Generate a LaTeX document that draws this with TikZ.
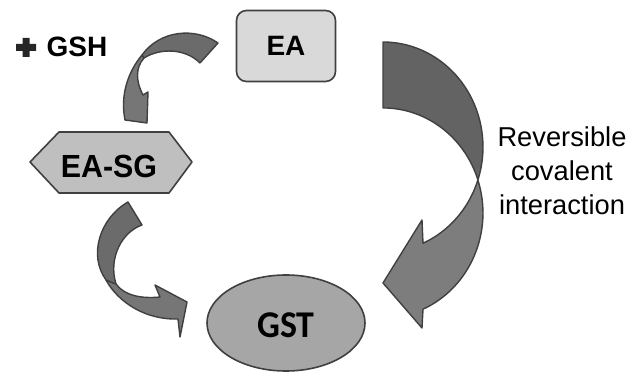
\documentclass[tikz,border=0pt]{standalone}
\usepackage{fontspec}
\setmainfont{Liberation Sans}
\newfontfamily\carl{Carlito}
\usetikzlibrary{shapes.geometric}
\definecolor{edgec}{HTML}{404040}
\definecolor{boxfill}{HTML}{D9D9D9}
\definecolor{hexfill}{HTML}{BFBFBF}
\definecolor{ellfill}{HTML}{A6A6A6}
\definecolor{arrdark}{HTML}{636363}
\definecolor{arrlight}{HTML}{7D7D7D}
\definecolor{arrmid}{HTML}{6B6B6B}
\definecolor{arrmid2}{HTML}{767676}
\definecolor{crossc}{HTML}{262626}
\tikzset{
  outl/.style={draw=edgec, line width=1.6pt, line join=round},
  band/.style={outl, line width=1.4pt},
  boldlbl/.style={font=\fontsize{28}{28}\selectfont\bfseries, inner sep=0pt},
}
\begin{document}
\begin{tikzpicture}[x=1pt,y=-1pt]
\useasboundingbox (0,0) rectangle (630,374);

% EA box
\node[outl, fill=boxfill, rounded corners=10pt, minimum width=99pt, minimum height=71pt, inner sep=0pt,
      font=\fontsize{28}{28}\selectfont\bfseries] (ea) at (286,46) {EA};

% + GSH
\fill[crossc] (22.5,38) -- (29.5,38) -- (29.5,44) -- (36,44) -- (36,51) -- (29.5,51) -- (29.5,57)
   -- (22.5,57) -- (22.5,51) -- (16,51) -- (16,44) -- (22.5,44) -- cycle;
\node[boldlbl, anchor=west] (gsh) at (46.5,47) {GSH};

% EA-SG hexagon
\coordinate (h1) at (30,162);
\coordinate (h2) at (59,132);
\coordinate (h3) at (169,132);
\coordinate (h4) at (192,162);
\coordinate (h5) at (169,193);
\coordinate (h6) at (59,193);
\draw[outl, fill=hexfill] (h1) -- (h2) -- (h3) -- (h4) -- (h5) -- (h6) -- cycle;
\node[inner sep=0pt, xscale=0.95, font=\fontsize{32}{32}\selectfont\bfseries] (easg) at (109,166.5) {EA-SG};

% GST ellipse
\node[outl, ellipse, fill=ellfill, minimum width=158pt, minimum height=96pt, inner sep=0pt] (gst) at (286,323) {};
\node[inner sep=0pt, xscale=0.95, font=\carl\fontsize{37.8}{37.8}\selectfont\bfseries] (gsttxt) at (286,325) {GST};

% big curved arrow (EA -> GST)
\draw[band, fill=arrlight] (477.9,180)
   arc[start angle=18.3, end angle=66.4, x radius=100, y radius=105]
   -- (422,220) -- (383,283) -- (422,328) -- (423,309.2)
   arc[start angle=66.4, end angle=-18.3, x radius=100, y radius=105] -- cycle;
\draw[band, fill=arrdark] (383,42)
   arc[start angle=-90, end angle=18.3, x radius=100, y radius=105]
   arc[start angle=-18.3, end angle=-90, x radius=100, y radius=105] -- cycle;

% small arrow EA -> EA-SG
\draw[band, fill=arrmid2] (142,55) .. controls (128,72) and (120,95) .. (125,120)
   -- (147,123) -- (148,92) -- (143,95) .. controls (136,82) and (135,68) .. (144,58) -- cycle;
\draw[band, fill=arrmid] (218,43) .. controls (195,27) and (160,30) .. (142,55)
   -- (144,58) .. controls (160,48) and (185,48) .. (200,63) -- cycle;

% small arrow EA-SG -> GST
\draw[band, fill=arrmid2] (106,280) .. controls (118,302) and (145,320) .. (178,319)
   -- (180,337) -- (187,302) -- (155,285) -- (160,297)
   .. controls (140,299) and (124,295) .. (116,284) -- cycle;
\draw[band, fill=arrmid] (128,202) .. controls (100,218) and (88,255) .. (106,280)
   -- (116,284) .. controls (108,258) and (122,232) .. (142,225) -- cycle;

% label
\node[inner sep=0pt, anchor=north, align=center, font=\fontsize{27.3}{33.6}\selectfont] (lbl) at (562,127)
  {Reversible\\covalent\\interaction};
\end{tikzpicture}
\end{document}
